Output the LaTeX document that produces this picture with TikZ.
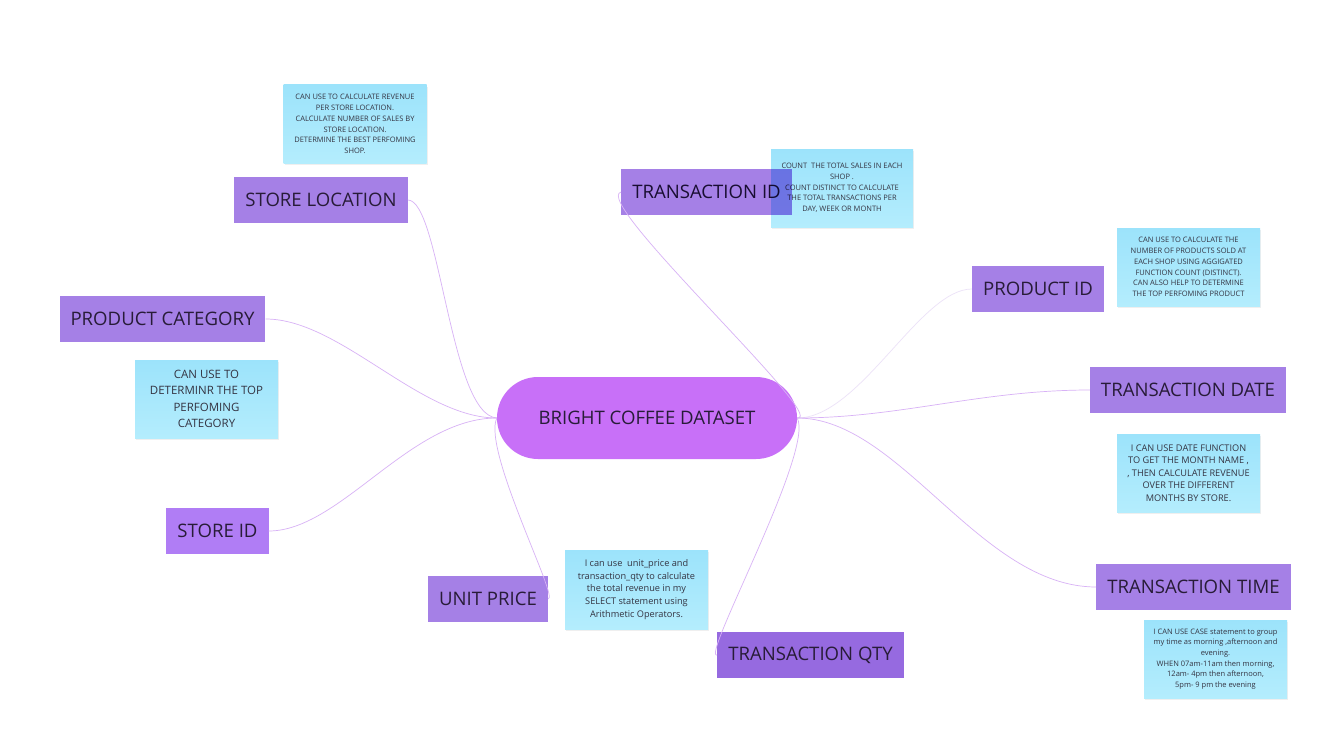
\documentclass[tikz,border=0pt]{standalone}
\usepackage{fontspec}
\setmainfont{Open Sans}
\usetikzlibrary{shadows}
\definecolor{bc_center}{RGB}{200, 112, 248}
\definecolor{bc_box}{RGB}{165, 128, 230}
\definecolor{bc_boxb}{RGB}{176, 125, 245}
\definecolor{bc_boxd}{RGB}{150, 106, 224}
\definecolor{bc_notet}{RGB}{156, 227, 251}
\definecolor{bc_noteb}{RGB}{180, 237, 253}
\definecolor{bc_line}{RGB}{216, 178, 246}
\definecolor{bc_linef}{RGB}{236, 226, 248}
\definecolor{bc_text}{RGB}{40, 28, 56}
\definecolor{bc_ntext}{RGB}{52, 52, 66}
\newcommand{\notea}{\fontsize{7.5}{10.7}\selectfont}
\newcommand{\noteb}{\fontsize{9.2}{12.6}\selectfont}
\newcommand{\notec}{\fontsize{11.5}{16.5}\selectfont}
\tikzstyle{cn}=[rectangle,rounded corners=41pt,fill=bc_center,text=bc_text,
  minimum width=300pt,minimum height=82pt,font=\fontsize{18.6}{21}\selectfont]
\tikzstyle{pb}=[rectangle,fill=bc_box,text=bc_text,inner xsep=11pt,inner ysep=0pt,
  minimum height=46pt,font=\fontsize{18.6}{21}\selectfont]
\tikzstyle{bn}=[rectangle,top color=bc_notet,bottom color=bc_noteb,text=bc_ntext,
  align=center,minimum width=143pt,minimum height=78pt,inner sep=2pt,font=\notea,
  drop shadow={shadow xshift=1pt,shadow yshift=-2pt,opacity=0.12}]
\tikzstyle{ln}=[draw=bc_line,line width=0.7pt]
\tikzstyle{none}=[]

\begin{document}
\begin{tikzpicture}[x=1pt, y=-1pt]
  \fill [white] (0,0) rectangle (1328,752);
  \useasboundingbox (0,0) rectangle (1328,752);
  % notes
  \node [style=bn] (10) at (355,124) {CAN USE TO CALCULATE REVENUE\\
    PER STORE LOCATION.\\ CALCULATE NUMBER OF SALES BY\\ STORE LOCATION.\\
    DETERMINE THE BEST PERFOMING\\ SHOP.};
  \node [style=bn, minimum width=142pt] (11) at (842,188) {COUNT~ THE TOTAL SALES IN EACH\\
    SHOP .\\ COUNT DISTINCT TO CALCULATE\\ THE TOTAL TRANSACTIONS PER\\
    DAY, WEEK OR MONTH};
  \node [style=bn] (12) at (1188.5,267) {CAN USE TO CALCULATE THE\\
    NUMBER OF PRODUCTS SOLD AT\\ EACH SHOP USING AGGIGATED\\
    FUNCTION COUNT (DISTINCT).\\ CAN ALSO HELP TO DETERMINE\\
    THE TOP PERFOMING PRODUCT};
  \node [style=bn, font=\notec] (13) at (206.5,399) {CAN USE TO\\ DETERMINR THE TOP\\
    PERFOMING\\ CATEGORY};
  \node [style=bn, font=\noteb] (14) at (1188.5,473) {I CAN USE DATE FUNCTION\\
    TO GET THE MONTH NAME ,\\ , THEN CALCULATE REVENUE\\ OVER THE DIFFERENT\\
    MONTHS BY STORE.};
  \node [style=bn, font=\noteb, minimum height=79pt] (15) at (636.5,589.5) {I can use~ unit\_price and\\
    transaction\_qty to calculate\\ the total revenue in my\\
    SELECT statement using\\ Arithmetic Operators.};
  \node [style=bn] (16) at (1215.5,659) {I CAN USE CASE statement to group\\
    my time as morning ,afternoon and\\ evening.\\ WHEN 07am-11am then morning,\\
    12am- 4pm then afternoon,\\ 5pm- 9 pm the evening};
  % fields
  \node [style=cn] (0) at (647,418) {BRIGHT COFFEE DATASET};
  \node [style=pb] (1) at (321,200) {STORE LOCATION};
  \node [style=pb] (2) at (162.5,319) {PRODUCT CATEGORY};
  \node [style=pb, fill=bc_boxb] (3) at (217.5,531) {STORE ID};
  \node [style=pb] (4) at (488,599) {UNIT PRICE};
  \node [style=pb, fill=bc_boxd] (5) at (810.5,655) {TRANSACTION QTY};
  \node [style=pb, blend mode=multiply] (6) at (706.5,192) {TRANSACTION ID};
  \node [style=pb] (7) at (1038,289) {PRODUCT ID};
  \node [style=pb] (8) at (1188,390) {TRANSACTION DATE};
  \node [style=pb] (9) at (1193.5,587) {TRANSACTION TIME};
  % connectors
  \draw [style=ln] (1.east) .. controls (440,200) and (450,415) .. (0.west);
  \draw [style=ln] (2.east) .. controls (340,319) and (420,418) .. (0.west);
  \draw [style=ln] (3.east) .. controls (340,531) and (410,418) .. (0.west);
  \draw [style=ln] (0.west) .. controls (482,450) and (560,600) .. (4.east);
  \draw [style=ln] (0.east) .. controls (815,450) and (700,660) .. (5.west);
  \draw [style=ln] (6.west) .. controls (590,200) and (830,420) .. (0.east);
  \draw [style=ln, draw=bc_linef] (0.east) .. controls (860,418) and (920,289) .. (7.west);
  \draw [style=ln] (0.east) .. controls (900,418) and (980,390) .. (8.west);
  \draw [style=ln] (0.east) .. controls (900,418) and (980,587) .. (9.west);
\end{tikzpicture}
\end{document}
